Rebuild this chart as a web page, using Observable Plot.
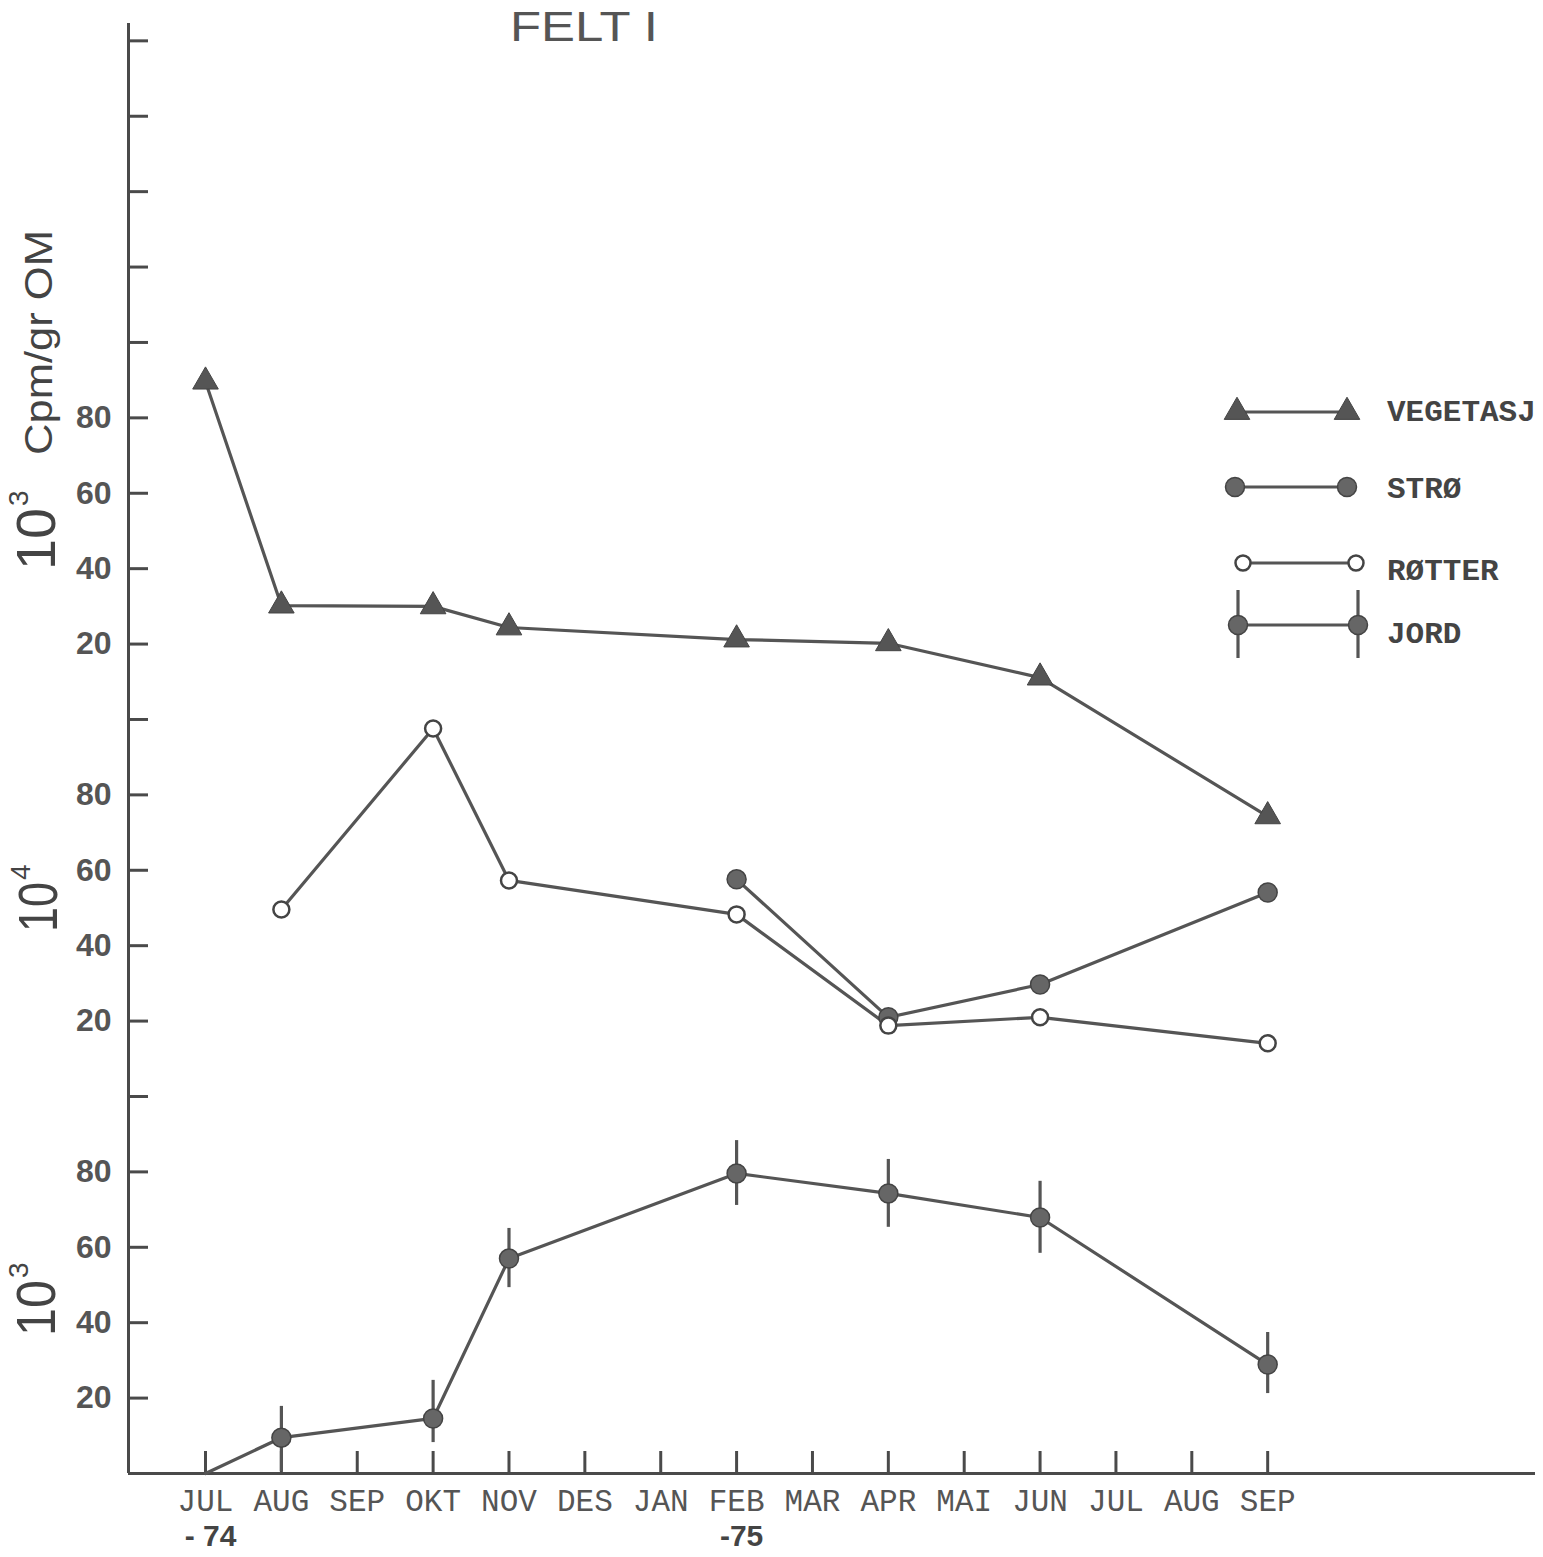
<!DOCTYPE html>
<html><head><meta charset="utf-8">
<script src="https://cdn.jsdelivr.net/npm/d3@7"></script>
<script src="https://cdn.jsdelivr.net/npm/@observablehq/plot@0.6"></script>
<style>
body{margin:0;background:#fff;}
#wrap{position:relative;width:1543px;height:1557px;overflow:hidden;background:#fff;}
#wrap svg{position:absolute;left:0;top:0;}
</style></head><body><div id="wrap"></div>
<script>
// ---------- data ----------
const months = ["JUL","AUG","SEP","OKT","NOV","DES","JAN","FEB","MAR","APR","MAI","JUN","JUL","AUG","SEP"];
const yearLabels = ["- 74", "-75"];
const yearMonth = [0, 7];
const title = "FELT I";
const axisTitle = "Cpm/gr OM";
// stacked y axis: one tick every 20 units, labels repeat per panel
const yTickValues = [20,40,60,80,100,120,140,160,180,200,220,240,260,280,300,320,340,360,380];
const yTickLabels = ["20","40","60","80","","20","40","60","80","","20","40","60","80","","","","",""];
const panelBase = ["10","10","10"];
const panelExp = ["3","4","3"];
const seriesNames = ["VEGETASJ","STRØ","RØTTER","JORD"];

// values in stacked-axis units
const vegMonth = [0,1,3,4,7,9,11,14];
const vegValue = [289.6,230.2,230.0,224.4,221.2,220.2,211.1,174.3];
const stroMonth = [7,9,11,14];
const stroValue = [157.6,121.0,129.7,154.1];
const rotMonth = [1,3,4,7,9,11,14];
const rotValue = [149.6,197.6,157.3,148.3,118.8,121.0,114.1];
const jordMonth = [0,1,3,4,7,9,11,14];
const jordValue = [0,9.5,14.6,57.0,79.6,74.3,67.9,28.9];
const jordLow  = [null,0.5,8.2,49.3,71.1,65.3,58.4,21.2];
const jordHigh = [null,17.8,24.7,65.0,88.3,83.3,77.5,37.4];

// ---------- build ----------
const W = 1543, H = 1557;
const xDomain = [-1.015, 17.53];
const yDomain = [0, 384.6];
const ink = "#4a4a4a";
const veg = vegMonth.map((m,i)=>({m, v:vegValue[i]}));
const stro = stroMonth.map((m,i)=>({m, v:stroValue[i]}));
const rot = rotMonth.map((m,i)=>({m, v:rotValue[i]}));
const jord = jordMonth.map((m,i)=>({m, v:jordValue[i], lo:jordLow[i], hi:jordHigh[i]}));
const jordMarked = jord.filter(d=>d.lo!=null);
const yLabelMap = new Map(yTickValues.map((v,i)=>[v, yTickLabels[i]]));
const years = yearLabels.map((t,i)=>({m:yearMonth[i], t, base:yDomain[0]}));

const chart = Plot.plot({
  width: W, height: H,
  marginLeft: 128, marginRight: 8, marginTop: 23, marginBottom: 84,
  style: {background: "transparent", color: ink, overflow: "visible"},
  x: {type: "linear", domain: xDomain},
  y: {type: "linear", domain: yDomain},
  marks: [
    Plot.axisX({ticks: d3.range(months.length), tickSize: -22, tickFormat: () => "", strokeWidth: 3, stroke: ink, label: null}),
    Plot.axisX({ticks: d3.range(months.length), tickSize: 0, tickPadding: 15, tickFormat: i => months[i],
      fontSize: 31, fontFamily: "Liberation Mono, monospace", fill: "#555", label: null}),
    Plot.axisY({ticks: yTickValues, tickSize: -20, tickFormat: () => "", strokeWidth: 3, stroke: ink, label: null}),
    Plot.axisY({ticks: yTickValues, tickSize: 0, tickPadding: 17, tickFormat: d => yLabelMap.get(Math.round(d)),
      fontSize: 32, fontWeight: "bold", fontFamily: "Liberation Sans, Arial, sans-serif", fill: "#555", label: null}),
    Plot.ruleY([yDomain[0]], {stroke: ink, strokeWidth: 3}),
    Plot.ruleX([xDomain[0]], {stroke: ink, strokeWidth: 3}),
    Plot.text(years, {x: "m", y: "base", text: "t", dy: 63, dx: 5, fontSize: 30, fontWeight: "bold",
      fontFamily: "Liberation Sans, Arial, sans-serif", fill: "#444"}),
    // lines
    Plot.line(veg, {x: "m", y: "v", stroke: "#555", strokeWidth: 3.2}),
    Plot.line(stro, {x: "m", y: "v", stroke: "#555", strokeWidth: 3.2}),
    Plot.line(rot, {x: "m", y: "v", stroke: "#555", strokeWidth: 3.2}),
    Plot.line(jord, {x: "m", y: "v", stroke: "#555", strokeWidth: 3.2}),
    Plot.ruleX(jordMarked, {x: "m", y1: "lo", y2: "hi", stroke: "#555", strokeWidth: 3.2}),
    // markers
    Plot.dot(veg, {x: "m", y: "v", symbol: "triangle", r: 9.5, fill: "#555", stroke: "#444", strokeWidth: 1}),
    Plot.dot(stro, {x: "m", y: "v", r: 9.5, fill: "#666", stroke: "#444", strokeWidth: 1.5}),
    Plot.dot(rot, {x: "m", y: "v", r: 8, fill: "white", stroke: "#444", strokeWidth: 2.5}),
    Plot.dot(jordMarked, {x: "m", y: "v", r: 9.5, fill: "#666", stroke: "#444", strokeWidth: 1.5})
  ]
});
document.getElementById("wrap").appendChild(chart);

// ---------- overlay: title, axis labels, legend ----------
const svg = d3.select("#wrap").append("svg").attr("width", W).attr("height", H);
const sans = "Liberation Sans, Arial, sans-serif";
const mono = "Liberation Mono, Courier New, monospace";

svg.append("text").attr("x", 510).attr("y", 41).attr("font-family", sans).attr("font-size", 42)
  .attr("fill", "#555").attr("textLength", 148).attr("lengthAdjust", "spacingAndGlyphs").text(title);

svg.append("text").attr("transform", "translate(52,455) rotate(-90)").attr("font-family", sans)
  .attr("font-size", 38).attr("fill", "#444").attr("textLength", 225).attr("lengthAdjust", "spacingAndGlyphs").text(axisTitle);

const panelPos = [{x:55, y:570, len:62}, {x:57, y:932, len:50}, {x:55, y:1336, len:56}];
panelPos.forEach((p, i) => {
  const t = svg.append("text").attr("transform", `translate(${p.x},${p.y}) rotate(-90)`)
    .attr("font-family", sans).attr("fill", "#444");
  t.append("tspan").attr("font-size", 56).attr("textLength", p.len).attr("lengthAdjust", "spacingAndGlyphs").text(panelBase[i]);
  t.append("tspan").attr("font-size", 28).attr("dy", -27).attr("dx", 2).text(panelExp[i]);
});

// legend
const lg = svg.append("g");
const rows = [
  {name: seriesNames[0], y: 412, x1: 1237, x2: 1347, kind: "tri", ty: 421},
  {name: seriesNames[1], y: 487, x1: 1235, x2: 1347, kind: "dot", ty: 498},
  {name: seriesNames[2], y: 563, x1: 1243, x2: 1356, kind: "open", ty: 580},
  {name: seriesNames[3], y: 625, x1: 1238, x2: 1358, kind: "jord", ty: 643}
];
const triPath = d3.symbol(d3.symbolTriangle, Math.PI * 9.5 * 9.5)();
rows.forEach(r => {
  lg.append("line").attr("x1", r.x1).attr("x2", r.x2).attr("y1", r.y).attr("y2", r.y).attr("stroke", "#555").attr("stroke-width", 3.2);
  [r.x1, r.x2].forEach(x => {
    if (r.kind === "tri") lg.append("path").attr("d", triPath).attr("transform", `translate(${x},${r.y})`).attr("fill", "#555").attr("stroke", "#444");
    if (r.kind === "dot") lg.append("circle").attr("cx", x).attr("cy", r.y).attr("r", 9.5).attr("fill", "#666").attr("stroke", "#444").attr("stroke-width", 1.5);
    if (r.kind === "open") lg.append("circle").attr("cx", x).attr("cy", r.y).attr("r", 7.5).attr("fill", "white").attr("stroke", "#444").attr("stroke-width", 2.5);
    if (r.kind === "jord") {
      lg.append("line").attr("x1", x).attr("x2", x).attr("y1", r.y - 35).attr("y2", r.y + 33).attr("stroke", "#555").attr("stroke-width", 3.2);
      lg.append("circle").attr("cx", x).attr("cy", r.y).attr("r", 9.5).attr("fill", "#666").attr("stroke", "#444").attr("stroke-width", 1.5);
    }
  });
  lg.append("text").attr("x", 1387).attr("y", r.ty).attr("font-family", mono).attr("font-weight", "bold")
    .attr("font-size", 30).attr("fill", "#444").attr("textLength", r.name.length * 18.6).attr("lengthAdjust", "spacingAndGlyphs").text(r.name);
});
</script></body></html>
